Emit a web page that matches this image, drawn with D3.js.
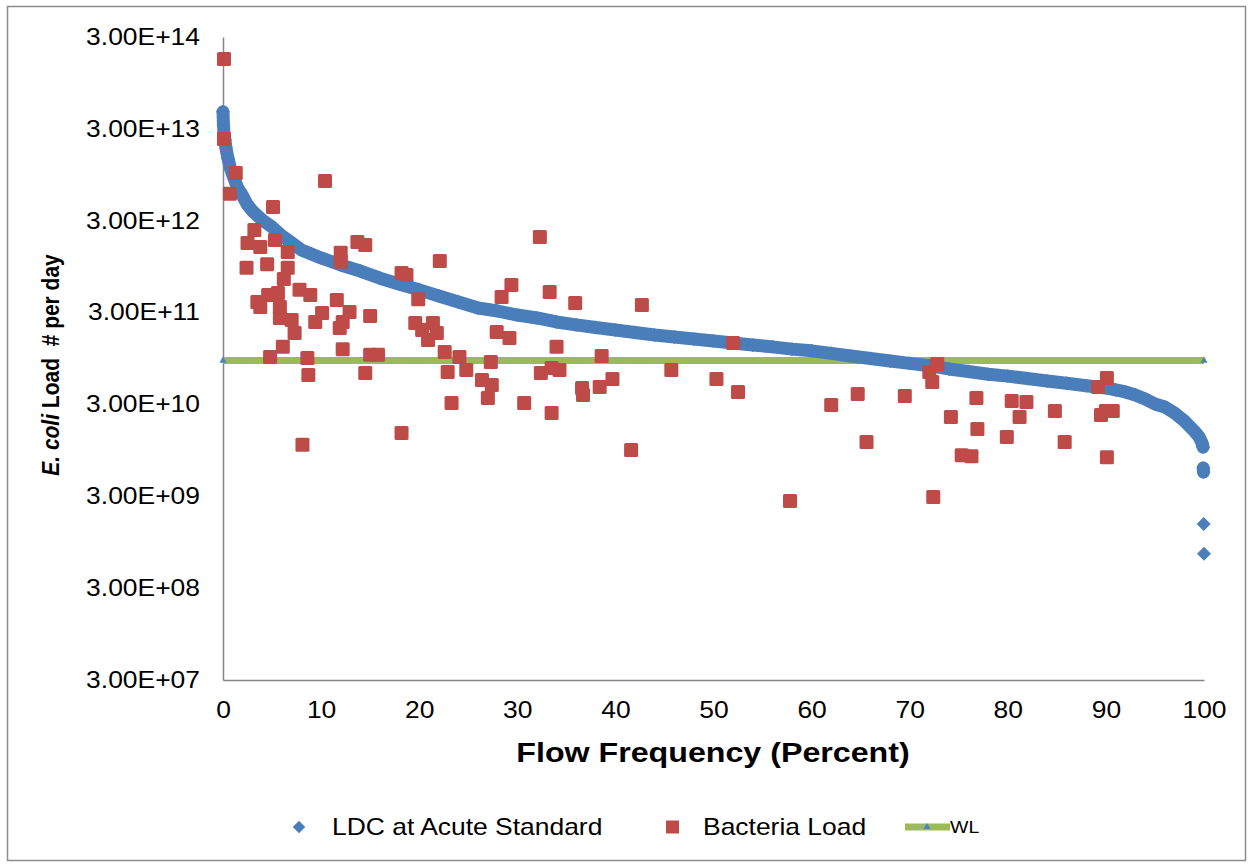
<!DOCTYPE html>
<html>
<head>
<meta charset="utf-8">
<script src="https://cdn.jsdelivr.net/npm/d3@7"></script>
<style>
  body { margin: 0; background: #fff; }
  text { font-family: "Liberation Sans", Arial, sans-serif; fill: #000; }
</style>
</head>
<body>
<svg id="chart" width="1252" height="867"></svg>
<script>
// load duration curve at the acute standard (flow percentile, load #/day)
var ldcPct = [0, 0.05, 0.1, 0.2, 0.3, 0.5, 0.75, 1, 1.5, 2, 2.5, 3,
  4, 5, 6, 7, 8, 9, 10,
  12, 14, 16, 18, 20, 22, 24, 26, 28, 30, 32, 34, 36, 38, 40, 42, 44, 46, 48, 50,
  52, 54, 56, 58, 60, 62, 64, 66, 68, 70, 72, 74, 76, 78, 80, 82, 84, 86, 88, 90,
  91, 92, 93, 94, 95, 96, 97, 98, 99,
  99.5, 99.8, 99.9, 99.93, 99.95, 99.97, 100];
var ldcLoad = [4.6e13, 3.3e13, 2.7e13, 2.27e13, 1.86e13, 1.44e13, 1.12e13, 9.4e12, 6.8e12, 5.6e12, 4.45e12, 3.83e12,
  3.05e12, 2.56e12, 2.05e12, 1.72e12, 1.44e12, 1.30e12, 1.18e12,
  9.9e11, 8.5e11, 7.1e11, 6.1e11, 5.3e11, 4.55e11, 3.91e11, 3.36e11, 3.12e11, 2.82e11, 2.62e11, 2.37e11, 2.20e11, 2.06e11, 1.94e11, 1.82e11, 1.71e11, 1.63e11, 1.55e11, 1.47e11,
  1.40e11, 1.33e11, 1.27e11, 1.20e11, 1.15e11, 1.08e11, 1.01e11, 9.5e10, 8.9e10, 8.4e10, 7.9e10, 7.3e10, 6.85e10, 6.4e10, 6.1e10, 5.75e10, 5.4e10, 5.1e10, 4.8e10, 4.53e10,
  4.31e10, 4.10e10, 3.80e10, 3.44e10, 3.03e10, 2.81e10, 2.42e10, 1.98e10, 1.54e10,
  1.33e10, 1.14e10, 1.03e10, 6.1e9, 5.5e9, 1.5e9, 7.1e8];

// measured bacteria loads
var bactPct = [0.1, 0.1, 1.3, 0.7, 10.4, 5.1, 3.2, 2.5, 3.8, 5.3, 6.6, 2.4, 4.5, 6.6, 6.2, 5.6, 3.5, 3.8, 4.6, 5.8,
  7.8, 8.9, 5.8, 7.0, 7.3, 6.1, 4.8, 8.6, 8.7, 9.4, 10.1, 11.6, 12.9, 12.2, 11.9, 12.2, 15.0, 15.0, 14.5, 13.7,
  14.5, 12.0, 12.0, 8.1, 15.8, 32.3, 22.1, 18.2, 18.7, 19.9, 19.6, 20.3, 21.4, 21.8, 20.9, 29.4, 28.4, 33.3, 27.9, 29.2,
  34.0, 22.6, 24.1, 22.9, 24.8, 27.3, 26.4, 27.4, 27.0, 23.3, 30.7, 32.4, 33.5, 34.3, 33.5, 18.2, 35.9, 42.7, 38.6, 39.7,
  36.6, 36.7, 38.4, 45.7, 50.3, 52.5, 52.0, 41.6, 62.0, 64.7, 69.5, 65.6, 57.8, 72.0, 72.8, 72.3, 74.2, 76.8, 76.9, 75.3,
  76.3, 72.4, 90.1, 89.2, 80.4, 81.9, 81.2, 79.9, 84.8, 85.8, 90.0, 89.5, 90.7, 90.1];
var bactLoad = [1.73e14, 2.33e13, 9.9e12, 5.9e12, 8.1e12, 4.23e12, 2.38e12, 1.72e12, 1.55e12, 1.85e12, 1.37e12, 9.2e11, 1.01e12, 9.2e11, 6.96e11, 4.9e11, 3.91e11, 3.45e11, 4.66e11, 3.45e11,
  5.3e11, 4.66e11, 2.62e11, 2.49e11, 1.80e11, 1.27e11, 9.85e10, 9.6e10, 6.28e10, 2.37e11, 2.97e11, 4.11e11, 3.04e11, 2.37e11, 2.04e11, 1.20e11, 2.75e11, 1.04e11, 6.6e10, 1.76e12,
  1.63e12, 1.34e12, 1.07e12, 1.09e10, 1.04e11, 1.99e12, 1.09e12, 8.1e11, 7.7e11, 4.2e11, 2.31e11, 1.94e11, 2.31e11, 1.80e11, 1.51e11, 5.99e11, 4.43e11, 5.02e11, 1.84e11, 1.59e11,
  1.27e11, 1.12e11, 9.85e10, 6.77e10, 7.1e10, 8.7e10, 5.54e10, 4.88e10, 3.53e10, 3.11e10, 3.11e10, 6.6e10, 7.48e10, 7.1e10, 2.42e10, 1.47e10, 3.81e11, 3.63e11, 1.01e11, 5.68e10,
  4.53e10, 3.80e10, 4.64e10, 7.1e10, 5.68e10, 4.10e10, 1.40e11, 9.6e9, 2.96e10, 3.90e10, 3.71e10, 1.17e10, 2.67e9, 6.77e10, 8.27e10, 5.27e10, 2.19e10, 3.53e10, 1.62e10, 8.4e9,
  8.2e9, 2.95e9, 5.82e10, 4.64e10, 3.27e10, 3.19e10, 2.19e10, 1.33e10, 2.54e10, 1.17e10, 2.54e10, 2.30e10, 2.54e10, 8.0e9];

// WL line
var wlPct = [0, 100];
var wlLoad = [9.0e10, 9.0e10];

var xTicks = [0, 10, 20, 30, 40, 50, 60, 70, 80, 90, 100];
var yTicks = [3e7, 3e8, 3e9, 3e10, 3e11, 3e12, 3e13, 3e14];
var legendLabels = ["LDC at Acute Standard", "Bacteria Load", "WL"];

var BLUE = "#4a7ebb", RED = "#be4b48", GREEN = "#9bbb59", AXIS = "#868686";
var SX = 1.15; // text in the picture is a bit wide

var svg = d3.select("#chart");
var plotL = 223, plotR = 1204, plotT = 37, plotB = 680;

var x = d3.scaleLinear().domain([0, 100]).range([plotL, plotR]);
var y = d3.scaleLog().domain([3e7, 3e14]).range([plotB, plotT]);

function sci(v) {
  var e = Math.round(Math.log10(v / 3));
  return "3.00E" + (e < 0 ? "-" : "+") + String(Math.abs(e)).padStart(2, "0");
}

function stretch(sel, tx, ty, rot) {
  sel.attr("transform", "translate(" + tx + "," + ty + ") scale(" + SX + ",1)" + (rot ? " rotate(" + rot + ")" : ""));
}

// outer frame
svg.append("rect")
  .attr("x", 7.5).attr("y", 6.5)
  .attr("width", 1238).attr("height", 854)
  .attr("fill", "#fff")
  .attr("stroke", "#8c8c8c")
  .attr("stroke-width", 1.5);

// axes
var gx = svg.append("g")
  .attr("transform", "translate(0," + plotB + ")")
  .call(d3.axisBottom(x).tickValues(xTicks).tickSize(0).tickSizeOuter(0).tickPadding(22));
gx.selectAll("text")
  .attr("font-size", 23)
  .style("font-family", "Liberation Sans, Arial, sans-serif")
  .attr("transform", "scale(" + SX + ",1)");

var gy = svg.append("g")
  .attr("transform", "translate(" + plotL + ",0)")
  .call(d3.axisLeft(y).tickValues(yTicks).tickFormat(sci).tickSize(0).tickSizeOuter(0).tickPadding(20));
gy.selectAll("text")
  .attr("font-size", 23)
  .style("font-family", "Liberation Sans, Arial, sans-serif")
  .attr("transform", "scale(" + SX + ",1)");

svg.selectAll(".domain").attr("stroke", AXIS).attr("stroke-width", 1.5);

// WL line
var wl = wlPct.map(function (p, i) { return [x(p), y(wlLoad[i])]; });
svg.append("path")
  .attr("d", d3.line()(wl))
  .attr("fill", "none")
  .attr("stroke", GREEN)
  .attr("stroke-width", 7);
svg.selectAll(".wlmark")
  .data(wl).enter().append("path")
  .attr("class", "wlmark")
  .attr("transform", function (d) { return "translate(" + d[0] + "," + d[1] + ")"; })
  .attr("d", d3.symbol().type(d3.symbolTriangle).size(22))
  .attr("fill", "#4f81bd");

// LDC: a dense band of diamonds, drawn as a thick line plus the markers
// (the band is broken only where the curve jumps down at the very end)
var ldc = ldcPct.map(function (p, i) { return [x(p), y(ldcLoad[i])]; });
var segs = [[ldc[0]]];
for (var i = 1; i < ldc.length; i++) {
  if (Math.abs(ldc[i][1] - ldc[i - 1][1]) > 16) segs.push([]);
  segs[segs.length - 1].push(ldc[i]);
}
svg.selectAll(".ldcband")
  .data(segs.filter(function (s) { return s.length > 1; }))
  .enter().append("path")
  .attr("class", "ldcband")
  .attr("d", d3.line())
  .attr("fill", "none")
  .attr("stroke", BLUE)
  .attr("stroke-width", 13)
  .attr("stroke-linejoin", "round")
  .attr("stroke-linecap", "round");
svg.selectAll(".ldc")
  .data(ldc).enter().append("path")
  .attr("class", "ldc")
  .attr("transform", function (d) { return "translate(" + d[0] + "," + d[1] + ")"; })
  .attr("d", d3.symbol().type(d3.symbolDiamond2).size(125))
  .attr("fill", BLUE);

// bacteria loads
svg.selectAll(".bact")
  .data(bactPct.map(function (p, i) { return [x(p), y(bactLoad[i])]; }))
  .enter().append("rect")
  .attr("class", "bact")
  .attr("x", function (d) { return d[0] - 7; })
  .attr("y", function (d) { return d[1] - 7; })
  .attr("width", 14).attr("height", 14)
  .attr("rx", 1.5)
  .attr("fill", RED);

// axis titles
var xt = svg.append("text")
  .attr("text-anchor", "middle")
  .attr("font-size", 28)
  .attr("font-weight", "bold")
  .text("Flow Frequency (Percent)");
stretch(xt, 713, 762);

var yt = svg.append("text")
  .attr("text-anchor", "middle")
  .attr("font-size", 21)
  .attr("font-weight", "bold")
  .style("white-space", "pre");
yt.append("tspan").attr("font-style", "italic").text("E. coli");
yt.append("tspan").text(" Load  # per day");
stretch(yt, 59, 365, -90);

// legend
var ly = 827;
svg.append("path")
  .attr("transform", "translate(299," + ly + ")")
  .attr("d", d3.symbol().type(d3.symbolDiamond2).size(100))
  .attr("fill", BLUE);
svg.append("rect")
  .attr("x", 666).attr("y", ly - 6.5)
  .attr("width", 13).attr("height", 13)
  .attr("fill", RED);
svg.append("line")
  .attr("x1", 905).attr("x2", 950)
  .attr("y1", ly).attr("y2", ly)
  .attr("stroke", GREEN).attr("stroke-width", 7);
svg.append("path")
  .attr("transform", "translate(927," + ly + ")")
  .attr("d", d3.symbol().type(d3.symbolTriangle).size(22))
  .attr("fill", "#4f81bd");

var lx = [332, 703, 950];
var lsize = [23, 23, 17];
legendLabels.forEach(function (t, i) {
  var s = svg.append("text").attr("font-size", lsize[i]).text(t);
  stretch(s, lx[i], ly + (i === 2 ? 6 : 8));
});
</script>
</body>
</html>
